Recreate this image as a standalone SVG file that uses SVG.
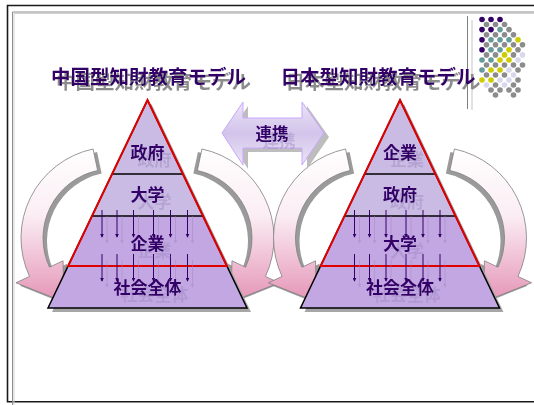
<svg xmlns="http://www.w3.org/2000/svg" xmlns:xlink="http://www.w3.org/1999/xlink" width="534" height="405" viewBox="0 0 534 405">
<style>
.t{font-family:"Noto Sans CJK JP","Noto Sans CJK SC",sans-serif;font-weight:bold;fill:#330066;text-anchor:middle}
.tt{filter:url(#tsh)}
.tl{filter:url(#lsh)}
.da{stroke:#330066;stroke-width:1;marker-end:url(#ah)}
.das{stroke:#9c86c0;stroke-width:1;opacity:.45;marker-end:url(#ahs)}
.P{fill:#330066}.G{fill:#8c8c8c}.T{fill:#669999}.Y{fill:#cccc00}.L{fill:#d8d8ec}
</style>
<defs>
<filter id="tsh" x="-10%" y="-20%" width="130%" height="160%"><feDropShadow dx="5" dy="5" stdDeviation="0" flood-color="#8c8c8c" flood-opacity="1"/></filter>
<filter id="lsh" x="-10%" y="-20%" width="140%" height="170%"><feDropShadow dx="7" dy="7" stdDeviation="0" flood-color="#9c86c0" flood-opacity="0.45"/></filter>
<linearGradient id="arcGrad" gradientUnits="userSpaceOnUse" x1="0" y1="145" x2="0" y2="300">
<stop offset="0" stop-color="#ffffff"/><stop offset="0.45" stop-color="#fbeef4"/><stop offset="1" stop-color="#e596b8"/>
</linearGradient>
<linearGradient id="linkGrad" x1="0" y1="0" x2="0" y2="1">
<stop offset="0" stop-color="#ece4f7"/><stop offset="0.5" stop-color="#d2c4ea"/><stop offset="1" stop-color="#ece4f7"/>
</linearGradient>
<marker id="ah" viewBox="0 0 6 6" refX="5" refY="3" markerWidth="4" markerHeight="4" orient="auto" markerUnits="userSpaceOnUse"><path d="M0,0 L6,3 L0,6 Z" fill="#330066"/></marker>
<marker id="ahs" viewBox="0 0 6 6" refX="5" refY="3" markerWidth="4" markerHeight="4" orient="auto" markerUnits="userSpaceOnUse"><path d="M0,0 L6,3 L0,6 Z" fill="#9c86c0"/></marker>
<path id="arc" d="M93.08,148.99 A91,91 0 0 0 29.53,276.46 L15.93,282.8 L63.86,301.9 L63.06,260.82 L49.47,267.16 A69,69 0 0 1 97.65,170.51 Z"/>
<g id="arcFull">
<use xlink:href="#arc" transform="translate(4,3)" fill="#9a9a9a"/>
<use xlink:href="#arc" fill="url(#arcGrad)" stroke="#7f7f7f" stroke-width="0.8"/>
</g>
<g id="pyrBase">
<path d="M151.5,104 L251,312 L52,312 Z" fill="#a6a6a6"/>
<path d="M147.5,100 L203,216 L92,216 Z" fill="#c9bbe3"/>
<path d="M92,216 L203,216 L247,308 L48,308 Z" fill="#c3a7e3"/>
<path d="M147.5,100 L247,308 L48,308 Z" fill="none" stroke="#000" stroke-width="1.5" stroke-linejoin="miter"/>
<line x1="112.1" y1="174" x2="182.9" y2="174" stroke="#000" stroke-width="1.3"/>
<line x1="92" y1="216" x2="203" y2="216" stroke="#000" stroke-width="1.3"/>
<path d="M147.5,100 L226.9,266 L68.1,266 Z" fill="none" stroke="#e00000" stroke-width="2"/>
</g>
<g id="downArrows">
<g transform="translate(5,6)">
<line class="das" x1="102" y1="210" x2="102" y2="237"/><line class="das" x1="117" y1="210" x2="117" y2="237"/><line class="das" x1="133.5" y1="210" x2="133.5" y2="237"/><line class="das" x1="153.5" y1="210" x2="153.5" y2="237"/><line class="das" x1="170.5" y1="210" x2="170.5" y2="237"/><line class="das" x1="187.5" y1="210" x2="187.5" y2="237"/>
<line class="das" x1="102" y1="254" x2="102" y2="281"/><line class="das" x1="117" y1="254" x2="117" y2="281"/><line class="das" x1="133.5" y1="254" x2="133.5" y2="281"/><line class="das" x1="153.5" y1="254" x2="153.5" y2="281"/><line class="das" x1="170.5" y1="254" x2="170.5" y2="281"/><line class="das" x1="187.5" y1="254" x2="187.5" y2="281"/>
</g>
<line class="da" x1="102" y1="210" x2="102" y2="237"/><line class="da" x1="117" y1="210" x2="117" y2="237"/><line class="da" x1="133.5" y1="210" x2="133.5" y2="237"/><line class="da" x1="153.5" y1="210" x2="153.5" y2="237"/><line class="da" x1="170.5" y1="210" x2="170.5" y2="237"/><line class="da" x1="187.5" y1="210" x2="187.5" y2="237"/>
<line class="da" x1="102" y1="254" x2="102" y2="281"/><line class="da" x1="117" y1="254" x2="117" y2="281"/><line class="da" x1="133.5" y1="254" x2="133.5" y2="281"/><line class="da" x1="153.5" y1="254" x2="153.5" y2="281"/><line class="da" x1="170.5" y1="254" x2="170.5" y2="281"/><line class="da" x1="187.5" y1="254" x2="187.5" y2="281"/>
</g>
</defs>

<g id="frame" fill="none">
<path d="M534,5.5 H7.5 V401.8 H534" stroke="#1a1a1a" stroke-width="1.6"/>
<path d="M534,12 H12.5 V405" stroke="#8c8c8c" stroke-width="1"/>
<path d="M534,13.5 H14 V405" stroke="#d0d0d0" stroke-width="1"/>
<line x1="467.5" y1="16" x2="467.5" y2="109" stroke="#808080" stroke-width="1"/>
<line x1="472" y1="20" x2="472" y2="110" stroke="#c4c4c4" stroke-width="1"/>
</g>

<g id="dots">
<circle class="P" cx="482" cy="19.5" r="2.8"/><circle class="P" cx="491" cy="19.5" r="2.8"/><circle class="P" cx="500" cy="19.5" r="2.8"/>
<circle class="G" cx="486.5" cy="24.5" r="2.8"/><circle class="G" cx="495.5" cy="24.5" r="2.8"/><circle class="G" cx="504.5" cy="24.5" r="2.8"/>
<circle class="P" cx="482" cy="29.6" r="2.8"/><circle class="P" cx="491" cy="29.6" r="2.8"/><circle class="T" cx="500" cy="29.6" r="2.8"/><circle class="G" cx="509" cy="29.6" r="2.8"/>
<circle class="G" cx="486.5" cy="34.7" r="2.8"/><circle class="G" cx="495.5" cy="34.7" r="2.8"/><circle class="G" cx="504.5" cy="34.7" r="2.8"/><circle class="G" cx="513.5" cy="34.7" r="2.8"/>
<circle class="P" cx="482" cy="39.7" r="2.8"/><circle class="T" cx="491" cy="39.7" r="2.8"/><circle class="T" cx="500" cy="39.7" r="2.8"/><circle class="T" cx="509" cy="39.7" r="2.8"/><circle class="Y" cx="518" cy="39.7" r="2.8"/>
<circle class="G" cx="486.5" cy="44.8" r="2.8"/><circle class="G" cx="495.5" cy="44.8" r="2.8"/><circle class="G" cx="504.5" cy="44.8" r="2.8"/><circle class="G" cx="513.5" cy="44.8" r="2.8"/><circle class="G" cx="522.5" cy="44.8" r="2.8"/>
<circle class="P" cx="482" cy="49.8" r="2.8"/><circle class="T" cx="491" cy="49.8" r="2.8"/><circle class="T" cx="500" cy="49.8" r="2.8"/><circle class="Y" cx="509" cy="49.8" r="2.8"/><circle class="G" cx="518" cy="49.8" r="2.8"/>
<circle class="G" cx="486.5" cy="54.9" r="2.8"/><circle class="G" cx="495.5" cy="54.9" r="2.8"/><circle class="Y" cx="504.5" cy="54.9" r="2.8"/><circle class="G" cx="513.5" cy="54.9" r="2.8"/><circle class="L" cx="522.5" cy="54.9" r="2.8"/>
<circle class="T" cx="482" cy="60" r="2.8"/><circle class="T" cx="491" cy="60" r="2.8"/><circle class="Y" cx="500" cy="60" r="2.8"/><circle class="Y" cx="509" cy="60" r="2.8"/><circle class="L" cx="518" cy="60" r="2.8"/>
<circle class="G" cx="486.5" cy="65" r="2.8"/><circle class="G" cx="495.5" cy="65" r="2.8"/><circle class="G" cx="504.5" cy="65" r="2.8"/><circle class="G" cx="513.5" cy="65" r="2.8"/><circle class="G" cx="522.5" cy="65" r="2.8"/>
<circle class="T" cx="482" cy="70" r="2.8"/><circle class="Y" cx="491" cy="70" r="2.8"/><circle class="Y" cx="500" cy="70" r="2.8"/><circle class="L" cx="509" cy="70" r="2.8"/><circle class="G" cx="518" cy="70" r="2.8"/>
<circle class="G" cx="486.5" cy="75" r="2.8"/><circle class="G" cx="495.5" cy="75" r="2.8"/><circle class="G" cx="504.5" cy="75" r="2.8"/><circle class="L" cx="513.5" cy="75" r="2.8"/>
<circle class="Y" cx="482" cy="80" r="2.8"/><circle class="Y" cx="491" cy="80" r="2.8"/><circle class="L" cx="500" cy="80" r="2.8"/><circle class="L" cx="509" cy="80" r="2.8"/><circle class="G" cx="518" cy="80" r="2.8"/>
<circle class="L" cx="486.5" cy="85" r="2.8"/><circle class="G" cx="495.5" cy="85" r="2.8"/><circle class="L" cx="504.5" cy="85" r="2.8"/><circle class="G" cx="513.5" cy="85" r="2.8"/>
<circle class="G" cx="491" cy="90" r="2.8"/><circle class="G" cx="500" cy="90" r="2.8"/><circle class="G" cx="509" cy="90" r="2.8"/><circle class="G" cx="518" cy="90" r="2.8"/>
<circle class="G" cx="495.5" cy="95" r="2.8"/><circle class="G" cx="513.5" cy="95" r="2.8"/>
</g>

<g id="title-cn">
<text class="t tt" x="148.5" y="84" font-size="19.5">中国型知財教育モデル</text>
</g>
<g id="title-jp">
<text class="t tt" x="378" y="84" font-size="19.5">日本型知財教育モデル</text>
</g>

<g id="connectors">
<g id="cycle-cn-left"><use xlink:href="#arcFull"/></g>
<g id="cycle-cn-right"><use xlink:href="#arcFull" transform="matrix(-1 0 0 1 295 0)"/></g>
<g id="cycle-jp-left"><use xlink:href="#arcFull" transform="translate(252.5,0)"/></g>
<g id="cycle-jp-right"><use xlink:href="#arcFull" transform="matrix(-1 0 0 1 547.5 0)"/></g>
<g id="link">
<path d="M227,137 L248,106 L248,122 L307,122 L307,106 L329,137 L307,169 L307,152 L248,152 L248,169 Z" fill="#bdbdbd"/>
<path d="M222,133 L243,102 L243,118 L302,118 L302,102 L324,133 L302,165 L302,148 L243,148 L243,165 Z" fill="url(#linkGrad)" stroke="#c9a6ff" stroke-width="1"/>
<text class="t tl" x="272" y="140" font-size="16.5">連携</text>
</g>
</g>

<g id="pyramid-cn">
<use xlink:href="#pyrBase"/>
<use xlink:href="#downArrows"/>
<g id="cn-gov"><text class="t tl" x="147.5" y="159" font-size="17">政府</text></g>
<g id="cn-univ"><text class="t tl" x="147.5" y="201" font-size="17">大学</text></g>
<g id="cn-corp"><text class="t tl" x="147.5" y="250" font-size="17">企業</text></g>
<g id="cn-society"><text class="t tl" x="147.5" y="294" font-size="17">社会全体</text></g>
</g>

<g id="pyramid-jp">
<use xlink:href="#pyrBase" transform="translate(252.5,0)"/>
<use xlink:href="#downArrows" transform="translate(252.5,0)"/>
<g id="jp-corp"><text class="t tl" x="400" y="159" font-size="17">企業</text></g>
<g id="jp-gov"><text class="t tl" x="400" y="201" font-size="17">政府</text></g>
<g id="jp-univ"><text class="t tl" x="400" y="250" font-size="17">大学</text></g>
<g id="jp-society"><text class="t tl" x="400" y="294" font-size="17">社会全体</text></g>
</g>
</svg>
